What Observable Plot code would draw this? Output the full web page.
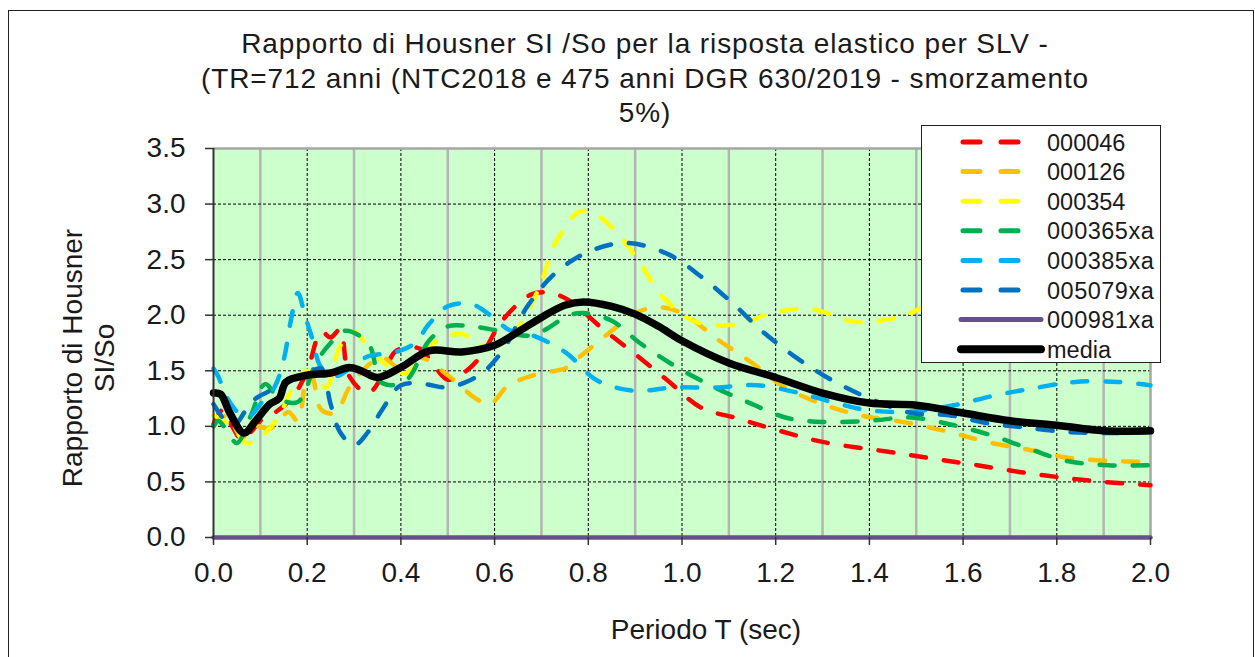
<!DOCTYPE html>
<html>
<head>
<meta charset="utf-8">
<script src="https://cdn.jsdelivr.net/npm/d3@7"></script>
<script src="https://cdn.jsdelivr.net/npm/@observablehq/plot@0.6"></script>
<style>
  html, body { margin: 0; padding: 0; background: #fff; }
  #wrap { position: relative; width: 1255px; height: 657px; overflow: hidden; background: #fff;
          font-family: "Liberation Sans", Arial, sans-serif; color: #1a1a1a; }
  #border { position: absolute; left: 8px; top: 10px; width: 1244px; height: 700px; border: 1.5px solid #222; }
  #chart { position: absolute; left: 0; top: 0; }
  .title { position: absolute; left: 0; top: 27px; width: 1290px; text-align: center;
           font-size: 28px; line-height: 34.5px; letter-spacing: 0.9px; }
  .ytitle { position: absolute; left: -61px; top: 326px; width: 300px; text-align: center;
            font-size: 28px; line-height: 32px; transform: rotate(-90deg); transform-origin: 150px 32px; }
  .xtitle { position: absolute; left: 406px; top: 614px; width: 600px; text-align: center; font-size: 28px; }
  #legend { position: absolute; left: 921px; top: 125px; width: 238px; height: 236px;
            background: #fff; border: 1.3px solid #222; }
</style>
</head>
<body>
<div id="wrap">
  <div id="chart"></div>
  <div id="border"></div>
  <div class="title">Rapporto di Housner SI /So per la risposta elastico per SLV -<br>(TR=712 anni (NTC2018 e 475 anni DGR 630/2019 - smorzamento<br>5%)</div>
  <div class="ytitle">Rapporto di Housner<br>SI/So</div>
  <div class="xtitle">Periodo T (sec)</div>
  <div id="legend"></div>
</div>
<script>
// ---- data (T in sec, Housner ratio) ----
const xTicks = [0, 0.2, 0.4, 0.6, 0.8, 1.0, 1.2, 1.4, 1.6, 1.8, 2.0];
const xMinor = [0.1, 0.3, 0.5, 0.7, 0.9, 1.1, 1.3, 1.5, 1.7, 1.9];
const yTicks = [0, 0.5, 1.0, 1.5, 2.0, 2.5, 3.0, 3.5];

const seriesNames = ["000046", "000126", "000354", "000365xa", "000385xa", "005079xa", "000981xa", "media"];
const seriesColors = ["#ff0000", "#ffc000", "#ffff00", "#00b050", "#00b0f0", "#0070c0", "#65508c", "#000000"];

const s000046 = [[0,1.02],[0.02,1.15],[0.04,1.0],[0.06,0.88],[0.08,0.95],[0.1,1.05],[0.13,1.12],[0.17,1.27],[0.2,1.5],[0.23,1.85],[0.25,1.8],[0.27,1.87],[0.29,1.45],[0.33,1.3],[0.36,1.45],[0.39,1.68],[0.44,1.7],[0.47,1.55],[0.5,1.42],[0.54,1.5],[0.57,1.63],[0.62,1.97],[0.68,2.19],[0.72,2.2],[0.76,2.13],[0.83,1.88],[0.9,1.65],[0.97,1.41],[1.04,1.17],[1.12,1.07],[1.2,0.97],[1.3,0.86],[1.46,0.76],[1.55,0.7],[1.63,0.65],[1.72,0.59],[1.81,0.54],[1.9,0.5],[2.0,0.47]];
const s000126 = [[0,1.0],[0.03,1.1],[0.06,0.9],[0.09,1.0],[0.12,0.98],[0.14,1.05],[0.16,1.13],[0.18,1.05],[0.2,1.45],[0.21,1.45],[0.23,1.15],[0.26,1.12],[0.29,1.35],[0.33,1.55],[0.36,1.62],[0.4,1.52],[0.44,1.62],[0.5,1.46],[0.56,1.25],[0.59,1.2],[0.63,1.37],[0.7,1.48],[0.75,1.52],[0.78,1.62],[0.85,1.86],[0.9,2.02],[0.95,2.07],[1.0,2.02],[1.08,1.77],[1.15,1.57],[1.22,1.35],[1.3,1.2],[1.38,1.1],[1.47,1.04],[1.57,0.95],[1.65,0.86],[1.74,0.79],[1.82,0.72],[1.91,0.69],[2.0,0.68]];
const s000354 = [[0,1.1],[0.04,1.0],[0.07,0.85],[0.1,0.9],[0.14,1.1],[0.17,1.35],[0.2,1.5],[0.24,1.35],[0.27,1.72],[0.3,1.85],[0.33,1.72],[0.37,1.55],[0.41,1.48],[0.45,1.65],[0.48,1.78],[0.53,1.83],[0.58,1.72],[0.63,1.8],[0.66,1.95],[0.7,2.3],[0.73,2.65],[0.78,2.93],[0.81,2.92],[0.86,2.75],[0.91,2.47],[0.96,2.16],[1.03,1.94],[1.12,1.92],[1.2,2.03],[1.28,2.05],[1.37,1.94],[1.46,1.98],[1.52,2.08],[1.6,2.2],[1.7,2.25],[1.8,2.2],[1.9,2.15],[2.0,2.1]];
const s000365xa = [[0,1.0],[0.01,1.05],[0.03,0.95],[0.05,0.85],[0.08,1.1],[0.11,1.38],[0.14,1.25],[0.18,1.22],[0.22,1.58],[0.25,1.75],[0.28,1.86],[0.33,1.75],[0.36,1.39],[0.41,1.41],[0.46,1.77],[0.5,1.9],[0.55,1.9],[0.61,1.86],[0.68,1.82],[0.76,2.0],[0.79,2.02],[0.85,1.95],[0.91,1.75],[0.99,1.53],[1.07,1.35],[1.15,1.2],[1.22,1.08],[1.3,1.04],[1.4,1.05],[1.49,1.08],[1.58,1.01],[1.66,0.92],[1.74,0.8],[1.82,0.69],[1.91,0.65],[2.0,0.65]];
const s000385xa = [[0,1.52],[0.01,1.45],[0.03,1.25],[0.06,1.1],[0.08,1.1],[0.1,1.2],[0.13,1.35],[0.15,1.6],[0.165,1.95],[0.18,2.2],[0.195,2.0],[0.21,1.8],[0.23,1.53],[0.26,1.45],[0.3,1.55],[0.33,1.63],[0.39,1.67],[0.43,1.75],[0.46,1.92],[0.5,2.08],[0.55,2.1],[0.6,1.97],[0.63,1.87],[0.68,1.82],[0.75,1.67],[0.82,1.41],[0.9,1.32],[0.98,1.35],[1.07,1.35],[1.16,1.37],[1.25,1.3],[1.32,1.22],[1.39,1.15],[1.48,1.13],[1.58,1.19],[1.67,1.28],[1.76,1.35],[1.84,1.4],[1.93,1.4],[2.0,1.37]];
const s005079xa = [[0,1.2],[0.04,1.0],[0.07,1.15],[0.09,1.25],[0.12,1.32],[0.15,1.4],[0.18,1.45],[0.21,1.5],[0.23,1.52],[0.25,1.2],[0.27,0.95],[0.3,0.83],[0.33,0.95],[0.36,1.15],[0.4,1.37],[0.45,1.38],[0.5,1.35],[0.55,1.42],[0.58,1.5],[0.62,1.7],[0.67,2.08],[0.73,2.38],[0.8,2.57],[0.88,2.65],[0.97,2.55],[1.04,2.35],[1.11,2.1],[1.17,1.86],[1.24,1.63],[1.31,1.44],[1.39,1.27],[1.49,1.12],[1.57,1.1],[1.65,1.03],[1.73,0.99],[1.82,0.95],[1.91,0.94],[2.0,0.95]];
const s000981xa = [[0,0],[2.0,0]];
const sMedia = [[0,1.3],[0.015,1.29],[0.035,1.12],[0.065,0.94],[0.09,1.05],[0.12,1.2],[0.14,1.25],[0.155,1.4],[0.2,1.46],[0.25,1.48],[0.29,1.53],[0.315,1.5],[0.35,1.44],[0.4,1.53],[0.46,1.68],[0.53,1.67],[0.6,1.73],[0.65,1.85],[0.7,1.98],[0.75,2.09],[0.79,2.12],[0.85,2.08],[0.9,2.01],[0.95,1.9],[1.0,1.77],[1.1,1.57],[1.2,1.44],[1.3,1.3],[1.4,1.21],[1.5,1.19],[1.6,1.12],[1.7,1.05],[1.8,1.01],[1.9,0.96],[2.0,0.96]];

const allSeries = [s000046, s000126, s000354, s000365xa, s000385xa, s005079xa, s000981xa, sMedia];

// ---- styles ----
const dashed = {strokeWidth: 4.5, strokeDasharray: "15,18", strokeLinecap: "round", curve: "catmull-rom"};
const styleFor = (i) => {
  if (seriesNames[i] === "media") return {strokeWidth: 7.5, strokeLinecap: "round", strokeLinejoin: "round", curve: "catmull-rom"};
  if (seriesNames[i] === "000981xa") return {strokeWidth: 4.5};
  return dashed;
};

const lineMarks = allSeries.map((s, i) =>
  Plot.line(s, {x: d => d[0], y: d => d[1], stroke: seriesColors[i], ...styleFor(i)})
);

const fmt = d => d.toFixed(1);

const chart = Plot.plot({
  width: 1255,
  height: 657,
  marginLeft: 213,
  marginRight: 105,
  marginTop: 148,
  marginBottom: 120,
  style: {fontFamily: '"Liberation Sans", Arial, sans-serif', fontSize: "28px", color: "#1a1a1a", background: "transparent", overflow: "visible"},
  x: {domain: [0, 2], axis: null},
  y: {domain: [0, 3.5], axis: null},
  marks: [
    Plot.frame({fill: "#ccffcc", stroke: null}),
    Plot.ruleX(xMinor, {stroke: "#b4b4b4", strokeWidth: 2.5}),
    Plot.ruleX(xTicks.filter(d => d > 0 && d < 2), {stroke: "#000", strokeWidth: 1, strokeDasharray: "3,2"}),
    Plot.ruleY(yTicks.filter(d => d > 0 && d < 3.5), {stroke: "#000", strokeWidth: 1, strokeDasharray: "3,2"}),
    Plot.ruleY([3.5], {stroke: "#a6a6a6", strokeWidth: 2.5}),
    Plot.ruleX([2], {stroke: "#a6a6a6", strokeWidth: 2.5}),
    ...lineMarks,
    Plot.ruleX([0], {stroke: "#333", strokeWidth: 2}),
    Plot.axisY({ticks: yTicks, tickFormat: fmt, tickSize: 8, tickPadding: 20, label: null, stroke: "#333", strokeWidth: 1.5}),
    Plot.axisX({ticks: xTicks, tickFormat: fmt, tickSize: 8, tickPadding: 17, label: null, stroke: "#333", strokeWidth: 1.5})
  ]
});
document.getElementById("chart").appendChild(chart);

// ---- legend (HTML overlay, built from series arrays) ----
const legend = document.getElementById("legend");
const ns = "http://www.w3.org/2000/svg";
const lsvg = document.createElementNS(ns, "svg");
lsvg.setAttribute("width", 238);
lsvg.setAttribute("height", 236);
seriesNames.forEach((name, i) => {
  const cy = 16 + i * 29.6;
  const line = document.createElementNS(ns, "line");
  const solid = name === "media" || name === "000981xa";
  line.setAttribute("x1", solid ? 39 : 41);
  line.setAttribute("x2", solid ? 119 : 99);
  line.setAttribute("y1", cy);
  line.setAttribute("y2", cy);
  line.setAttribute("stroke", seriesColors[i]);
  line.setAttribute("stroke-width", name === "media" ? 8 : 5);
  line.setAttribute("stroke-linecap", "round");
  if (!solid) line.setAttribute("stroke-dasharray", "17,21");
  lsvg.appendChild(line);
  const t = document.createElementNS(ns, "text");
  t.setAttribute("x", 125);
  t.setAttribute("y", cy + 8.5);
  t.setAttribute("font-size", "23.5px");
  t.setAttribute("font-family", '"Liberation Sans", Arial, sans-serif');
  t.setAttribute("fill", "#1a1a1a");
  if (name.endsWith("xa")) t.setAttribute("letter-spacing", "0.5px");
  t.textContent = name;
  lsvg.appendChild(t);
});
legend.appendChild(lsvg);
</script>
</body>
</html>
